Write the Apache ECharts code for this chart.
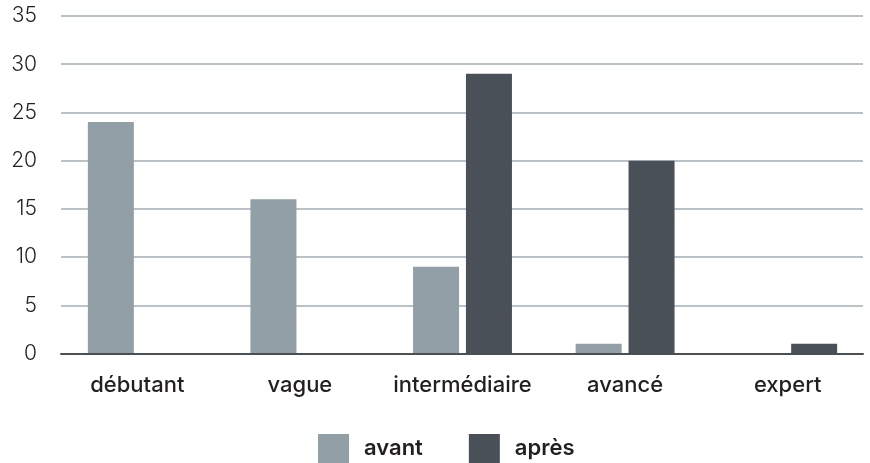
<!DOCTYPE html>
<html><head><meta charset="utf-8">
<script src="https://cdn.jsdelivr.net/npm/echarts@6/dist/echarts.min.js"></script>
<style>html,body{margin:0;padding:0;background:#fff}#c{width:870px;height:463px}</style>
</head><body><div id="c"></div>
<script>
const categories = ['débutant', 'vague', 'intermédiaire', 'avancé', 'expert'];
const avant = [24, 16, 9, 1, 0];
const apres = [0, 0, 29, 20, 1];
const seriesNames = ['avant', 'après'];

const chart = echarts.init(document.getElementById('c'));
const font = 'Inter, "Open Sans", sans-serif';
chart.setOption({
  animation: false,
  grid: [
    { left: 61, right: 7, top: 16, bottom: 109.5 },
    { left: 56, right: 1, top: 16, bottom: 109.5 }
  ],
  legend: {
    bottom: 0, left: 318, padding: 0,
    itemWidth: 31, itemHeight: 29, itemGap: 46,
    icon: 'rect',
    textStyle: { fontFamily: font, fontSize: 22, fontWeight: 600, color: '#231f20', padding: [0, 0, 0, 10] },
    data: seriesNames
  },
  xAxis: [
    {
      gridIndex: 0, type: 'category', data: categories,
      axisTick: { show: false }, axisLabel: { show: false },
      axisLine: { lineStyle: { color: '#4a4f55', width: 2 } }, z: 5
    },
    {
      gridIndex: 1, type: 'category', data: categories,
      axisTick: { show: false }, axisLine: { show: false },
      axisLabel: { interval: 0, fontFamily: font, fontSize: 22, fontWeight: 500, color: '#231f20', margin: 21 }
    }
  ],
  yAxis: [
    {
      gridIndex: 0, type: 'value', min: 0, max: 35, interval: 5,
      axisLine: { show: false }, axisTick: { show: false },
      axisLabel: { fontFamily: font, fontSize: 21, fontWeight: 300, color: '#231f20', margin: 24 },
      splitLine: { lineStyle: { color: '#a3aeb7', width: 1.5 } }
    },
    {
      gridIndex: 1, type: 'value', min: 0, max: 35, interval: 5,
      axisLine: { show: false }, axisTick: { show: false },
      axisLabel: { show: false }, splitLine: { show: false }
    }
  ],
  series: [
    { name: seriesNames[0], type: 'bar', xAxisIndex: 1, yAxisIndex: 1, data: avant, barWidth: 46, barGap: '15%', itemStyle: { color: '#929fa6' } },
    { name: seriesNames[1], type: 'bar', xAxisIndex: 1, yAxisIndex: 1, data: apres, barWidth: 46, barGap: '15%', itemStyle: { color: '#4a5057' } }
  ]
});
</script></body></html>
